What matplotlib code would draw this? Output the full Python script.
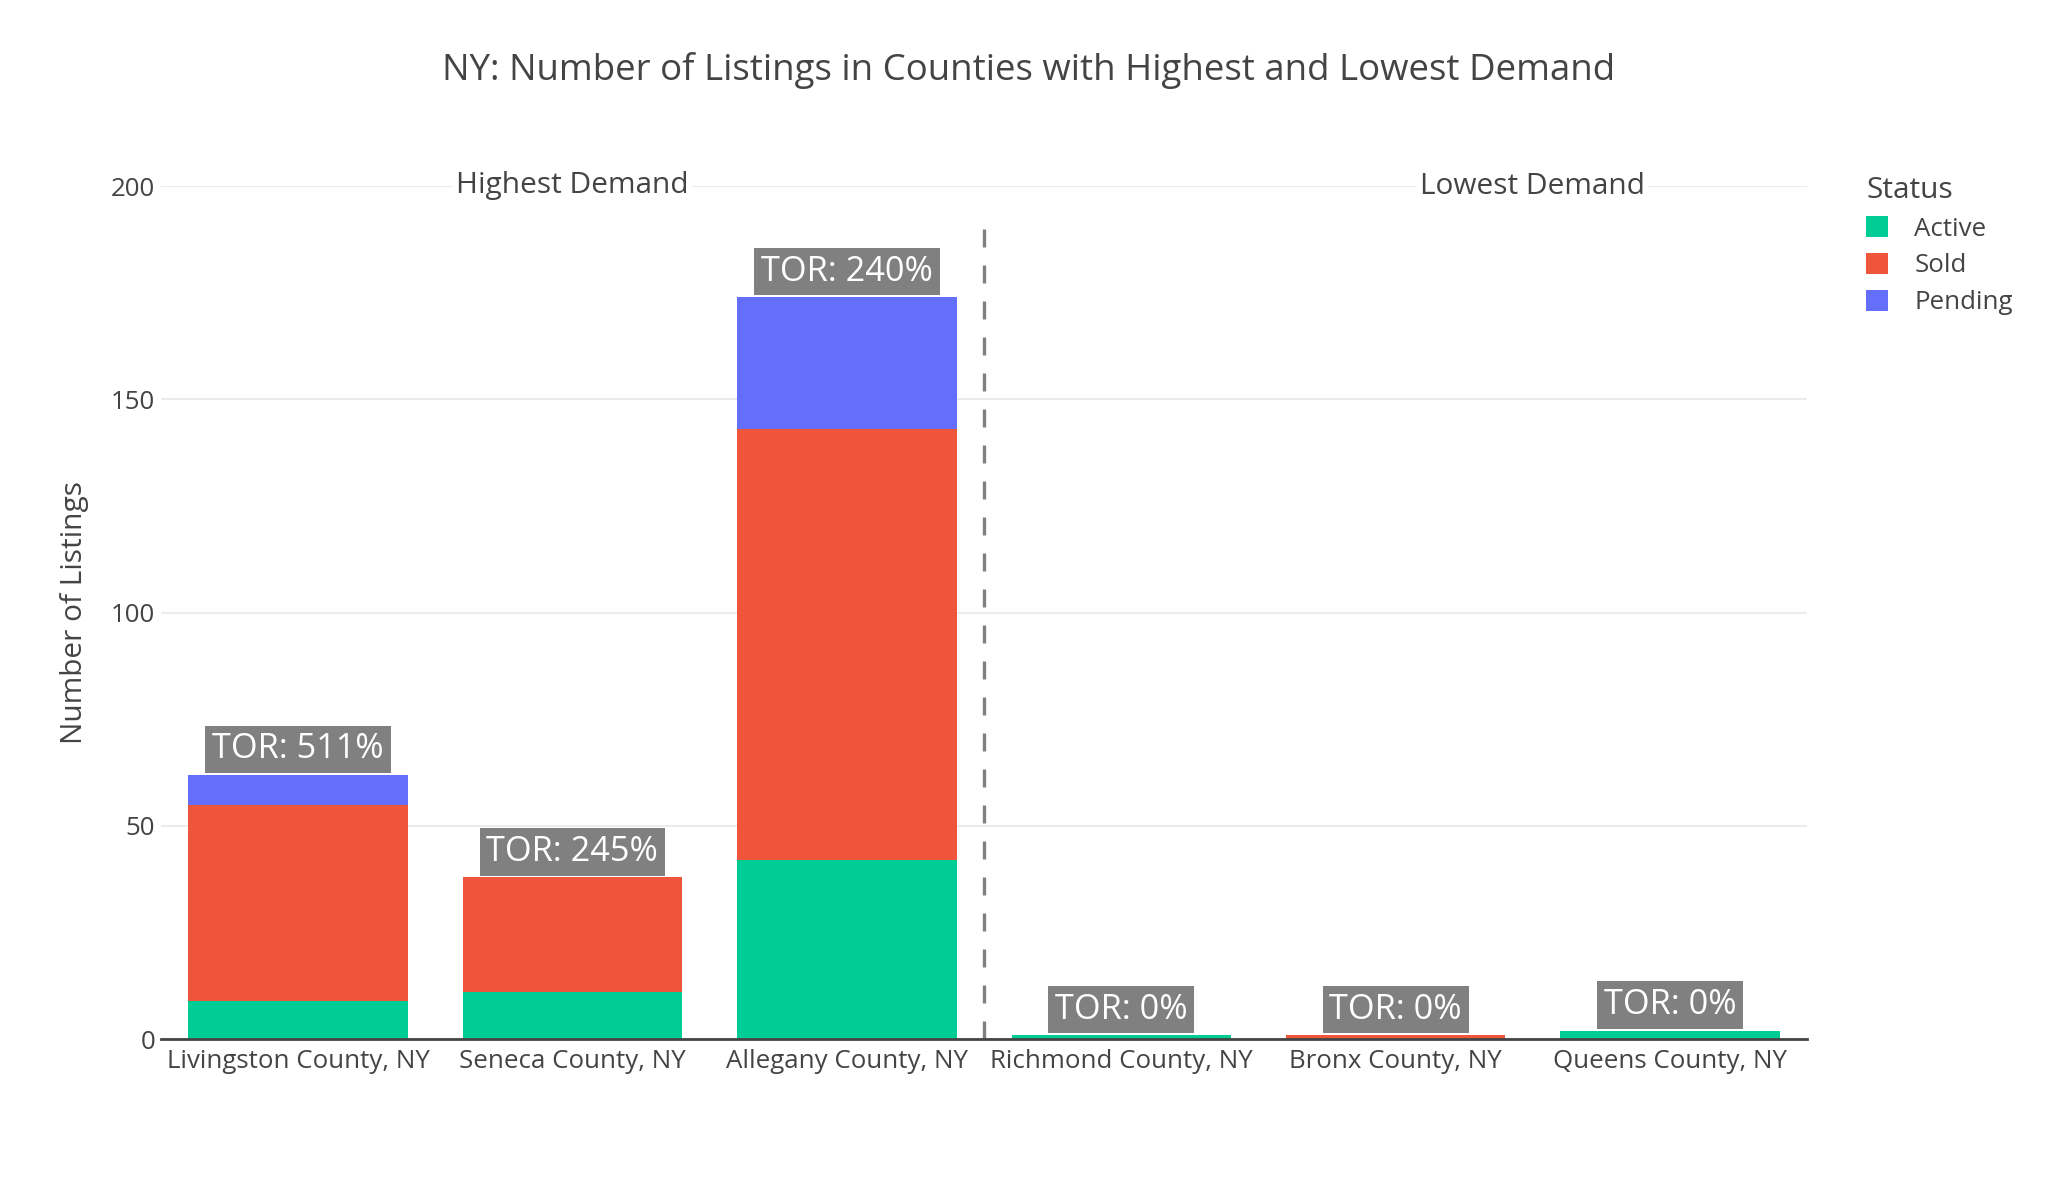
import matplotlib.pyplot as plt
import numpy as np

plt.rcParams['font.family'] = ['Open Sans', 'DejaVu Sans']

# data
counties = ["Livingston County, NY", "Seneca County, NY", "Allegany County, NY",
            "Richmond County, NY", "Bronx County, NY", "Queens County, NY"]
active = [9, 11, 42, 1, 0, 2]
sold = [46, 27, 101, 0, 1, 0]
pending = [7, 0, 31, 0, 0, 0]
tor_labels = ["TOR: 511%", "TOR: 245%", "TOR: 240%", "TOR: 0%", "TOR: 0%", "TOR: 0%"]

text_color = "#444444"
colors = {"Active": "#00CC96", "Sold": "#EF553B", "Pending": "#636EFA"}

fig = plt.figure(figsize=(20.48, 12), dpi=100)
ax = fig.add_axes([0.0785, 0.134, 0.804, 0.711])

x = np.arange(len(counties))
active = np.array(active)
sold = np.array(sold)
pending = np.array(pending)

ax.bar(x, active, width=0.8, color=colors["Active"], label="Active", zorder=2)
ax.bar(x, sold, width=0.8, bottom=active, color=colors["Sold"], label="Sold", zorder=2)
ax.bar(x, pending, width=0.8, bottom=active + sold, color=colors["Pending"],
       label="Pending", zorder=2)

totals = active + sold + pending

# TOR labels on top of each bar
for i in range(len(counties)):
    ax.annotate(tor_labels[i], xy=(x[i], totals[i]), xytext=(0, 6),
                textcoords="offset points", ha="center", va="bottom",
                fontsize=24.7, color="white", zorder=4,
                bbox=dict(boxstyle="square,pad=0.2", fc="#808080", ec="none"))

# separator between high and low demand groups
ax.plot([2.5, 2.5], [0, 192], color="#808080", lw=2.4,
        linestyle=(0, (5.4, 5.4)), zorder=3)

ax.text(1, 200, "Highest Demand", ha="center", va="center", fontsize=21.5,
        color=text_color, zorder=4,
        bbox=dict(boxstyle="square,pad=0.1", fc="white", ec="none"))
ax.text(4.5, 200, "Lowest Demand", ha="center", va="center", fontsize=21.5,
        color=text_color, zorder=4,
        bbox=dict(boxstyle="square,pad=0.1", fc="white", ec="none"))

ax.set_xlim(-0.5, 5.5)
ax.set_ylim(0, 200)
ax.set_yticks([0, 50, 100, 150, 200])
ax.set_xticks(x)
ax.set_xticklabels(counties)
ax.tick_params(axis="both", length=0, labelsize=18.6, labelcolor=text_color)
ax.tick_params(axis="y", pad=4)
ax.tick_params(axis="x", pad=7)
ax.grid(axis="y", color="#EBEBEB", lw=1.5, zorder=0)
for side in ["top", "right", "left"]:
    ax.spines[side].set_visible(False)
ax.spines["bottom"].set_color(text_color)
ax.spines["bottom"].set_linewidth(2)
ax.spines["bottom"].set_zorder(5)

ax.set_ylabel("Number of Listings", fontsize=21.5, color=text_color, labelpad=16)

fig.suptitle("NY: Number of Listings in Counties with Highest and Lowest Demand",
             x=0.502, y=0.957, fontsize=26.4, color=text_color)

leg = fig.legend(loc="upper left", bbox_to_anchor=(0.9, 0.873), frameon=False,
                 title="Status", title_fontsize=21.5, fontsize=18.6,
                 handlelength=0.85, handleheight=0.85, handletextpad=1.0,
                 labelspacing=0.45, alignment="left", labelcolor=text_color)
leg.get_title().set_color(text_color)

fig.savefig("out.png", dpi=100)
